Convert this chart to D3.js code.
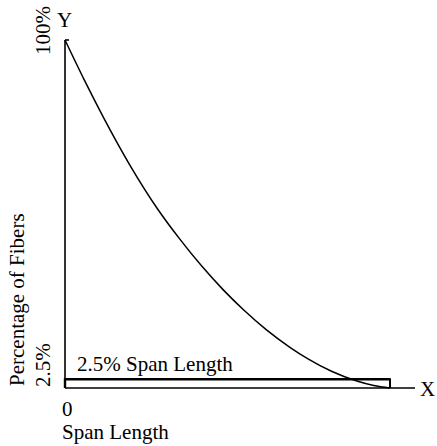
<!DOCTYPE html>
<html>
<head>
<meta charset="utf-8">
<script src="https://cdn.jsdelivr.net/npm/d3@7"></script>
<style>
  html, body { margin: 0; padding: 0; background: #fff; }
  svg text { font-family: "Liberation Serif", "Times New Roman", serif; font-size: 21px; fill: #000; }
</style>
</head>
<body>
<svg id="chart" width="437" height="446"></svg>
<script>
// Span length (fraction of the 2.5% span length) and percentage of fibers
const spanX = [0, 0.06, 0.117, 0.2, 0.286, 0.354, 0.42, 0.487, 0.55, 0.62, 0.692, 0.749, 0.82, 0.898, 0.95, 1.0];
const pctFibers = [100, 88.4, 78.0, 64.0, 51.3, 42.7, 35.1, 28.2, 22.4, 16.7, 11.7, 8.3, 4.8, 2.0, 0.7, 0];
const spanLevel = [2.5];          // 2.5% level
const xAxisEnd = [1.077];         // extent of X axis line
const yTickLabels = ["100%", "2.5%"];
const xTickLabels = ["0"];

const svg = d3.select("#chart");
const x = d3.scaleLinear().domain([0, 1]).range([65, 390]);
const y = d3.scaleLinear().domain([0, 100]).range([388, 40]);

// Y axis
svg.append("line").attr("x1", x(0)).attr("x2", x(0)).attr("y1", y(100)).attr("y2", y(0))
  .attr("stroke", "#000").attr("stroke-width", 1.6);
svg.append("line").attr("x1", x(0)).attr("x2", x(0) + 4).attr("y1", y(100)).attr("y2", y(100))
  .attr("stroke", "#000").attr("stroke-width", 1.6);

// X axis
svg.append("line").attr("x1", x(0)).attr("x2", x(xAxisEnd[0])).attr("y1", y(0)).attr("y2", y(0))
  .attr("stroke", "#000").attr("stroke-width", 1.4);

// 2.5% span length band
svg.append("line").attr("x1", x(0)).attr("x2", x(1)).attr("y1", y(spanLevel[0])).attr("y2", y(spanLevel[0]))
  .attr("stroke", "#000").attr("stroke-width", 2.6);
svg.append("line").attr("x1", x(1)).attr("x2", x(1)).attr("y1", y(spanLevel[0]) - 1).attr("y2", y(0))
  .attr("stroke", "#000").attr("stroke-width", 2);
svg.append("line").attr("x1", x(0)).attr("x2", x(0)).attr("y1", y(spanLevel[0]) - 1).attr("y2", y(0))
  .attr("stroke", "#000").attr("stroke-width", 2.4);

// Curve
const line = d3.line().x((d, i) => x(spanX[i])).y(d => y(d)).curve(d3.curveMonotoneX);
svg.append("path").datum(pctFibers).attr("d", line)
  .attr("fill", "none").attr("stroke", "#000").attr("stroke-width", 1.5);

// Texts
svg.append("text").attr("x", 57).attr("y", 27).text("Y");
svg.append("text").attr("x", 420).attr("y", 396).text("X");
svg.append("text").attr("transform", `translate(50,${y(100) + 15}) rotate(-90)`).text(yTickLabels[0]);
svg.append("text").attr("transform", `translate(50,${y(0) - 1}) rotate(-90)`).text(yTickLabels[1]);
svg.append("text").attr("transform", `translate(24,${y(0) - 2}) rotate(-90)`).text("Percentage of Fibers");
svg.append("text").attr("x", 77).attr("y", 371).text("2.5% Span Length");
svg.append("text").attr("x", x(0) - 3).attr("y", 416).text(xTickLabels[0]);
svg.append("text").attr("x", x(0) - 3).attr("y", 439).text("Span Length");
</script>
</body>
</html>
